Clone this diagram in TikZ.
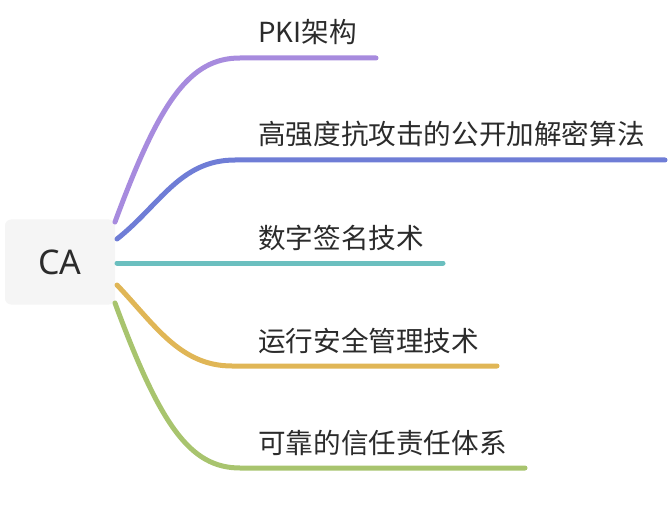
\documentclass[tikz,border=0pt]{standalone}
\usepackage{fontspec}
\setmainfont{Noto Sans}
\newfontfamily\cjk{Noto Sans CJK SC}
\definecolor{cpurple}{HTML}{A78BDE}
\definecolor{cblue}{HTML}{6F7DD6}
\definecolor{cteal}{HTML}{6BBFBF}
\definecolor{corange}{HTML}{E0B656}
\definecolor{cgreen}{HTML}{A8C46E}
\definecolor{ctext}{HTML}{2B2B2B}
\definecolor{cbox}{HTML}{F5F5F5}
\begin{document}
\begin{tikzpicture}[x=1pt,y=-1pt,
  rootbox/.style={fill=cbox,rounded corners=6pt,minimum width=110pt,minimum height=85pt,inner sep=0pt,text=ctext,font=\fontsize{34}{40}\selectfont},
  leaf/.style={anchor=base west,inner sep=0pt,text=ctext,font=\cjk\fontsize{27.6}{32}\selectfont},
  branch/.style={line width=5pt,line cap=round}]
\useasboundingbox (0,0) rectangle (670,524);
\node[rootbox] (ca) at (60,262) {CA};
% start points at the root's right edge
\coordinate (s1) at (115,222);
\coordinate (s2) at (117,239);
\coordinate (s3) at (117,263);
\coordinate (s4) at (117,285);
\coordinate (s5) at (115,303);
% end points of the underlines
\coordinate (e1) at (376,58);
\coordinate (e2) at (665,160);
\coordinate (e3) at (443,263);
\coordinate (e4) at (497,366);
\coordinate (e5) at (525,468);
\node[leaf] (t1) at (258,43) {PKI架构};
\node[leaf] (t2) at (258,145) {高强度抗攻击的公开加解密算法};
\node[leaf] (t3) at (258,248) {数字签名技术};
\node[leaf] (t4) at (258,351) {运行安全管理技术};
\node[leaf] (t5) at (258,453) {可靠的信任责任体系};
\draw[branch,cpurple] (s1) .. controls (160,100) and (190,58) .. (240,58) -- (e1);
\draw[branch,cblue] (s2) .. controls (160,205) and (180,160) .. (235,160) -- (e2);
\draw[branch,cteal] (s3) -- (e3);
\draw[branch,corange] (s4) .. controls (155,325) and (180,366) .. (232,366) -- (e4);
\draw[branch,cgreen] (s5) .. controls (160,425) and (190,468) .. (240,468) -- (e5);
\end{tikzpicture}
\end{document}
